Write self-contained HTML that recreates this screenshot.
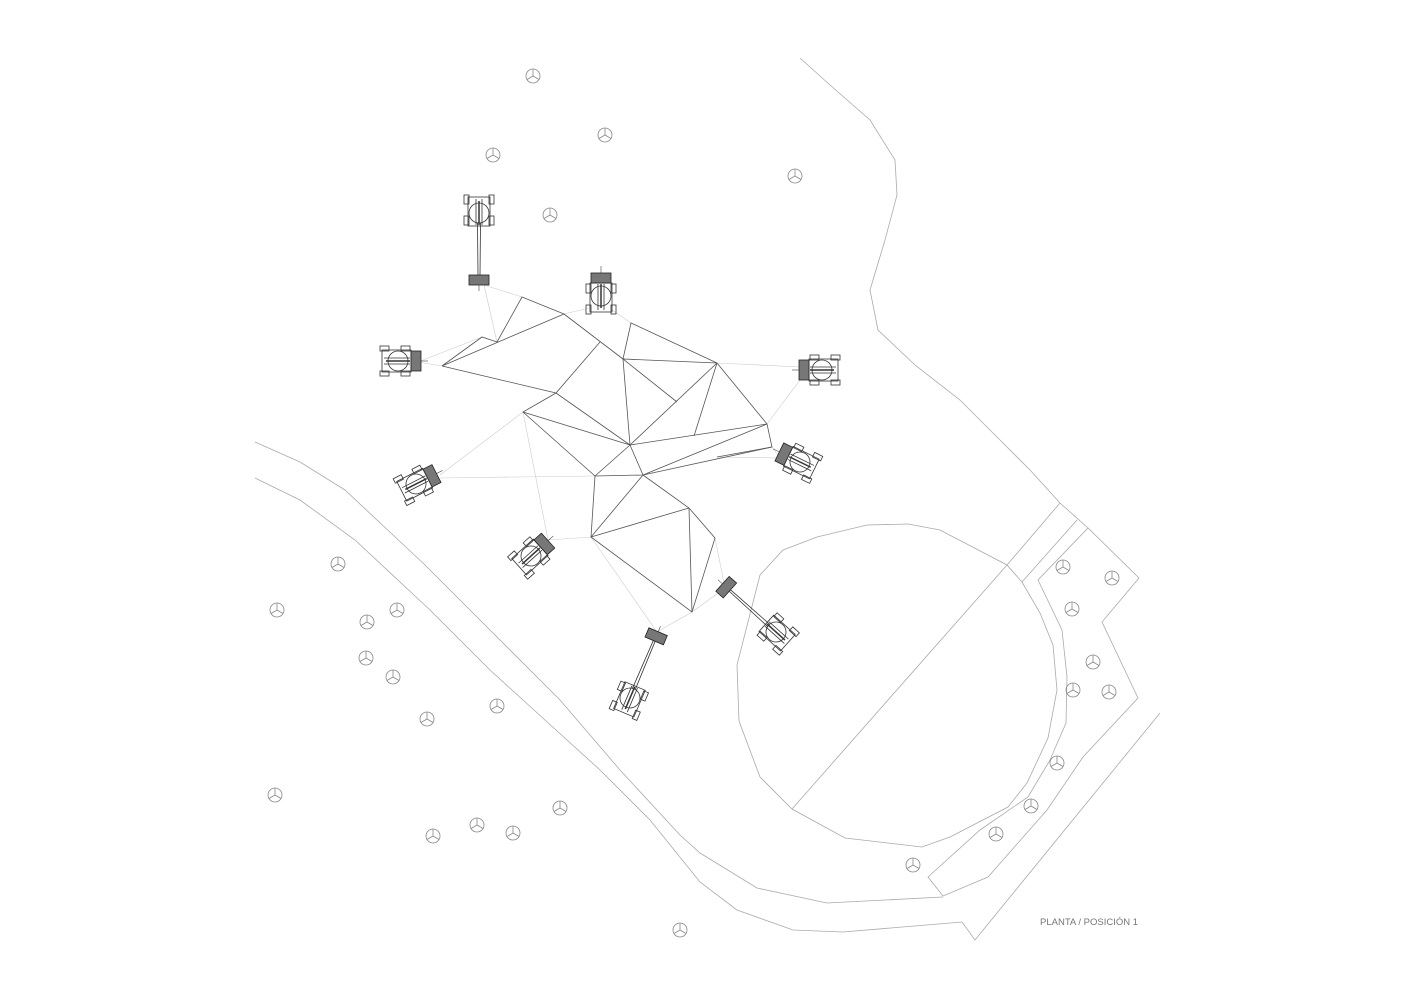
<!DOCTYPE html>
<html><head><meta charset="utf-8"><style>
html,body{margin:0;padding:0;background:#fff;}
svg{display:block;}
</style></head><body>
<svg width="1414" height="1000" viewBox="0 0 1414 1000" xmlns="http://www.w3.org/2000/svg">
<defs>
<g id="tree" fill="none" stroke="#888" stroke-width="0.8">
<circle r="7"/><path d="M0,0 L0,-7 M0,0 L6,3.5 M0,0 L-6,3.5"/>
</g>
<g id="body" fill="none" stroke="#333" stroke-width="0.8">
<rect x="-11" y="-16" width="22" height="29" fill="#fff"/>
<circle r="10" fill="#fff"/>
<rect x="-15" y="-18" width="5" height="9"/><rect x="10" y="-18" width="5" height="9"/>
<rect x="-15" y="3" width="5" height="9"/><rect x="10" y="3" width="5" height="9"/>
<line x1="-3" y1="-14" x2="-3" y2="12"/><line x1="3" y1="-14" x2="3" y2="12"/>
<line x1="0" y1="-12" x2="0" y2="12" stroke-width="1.5"/>
</g>
<g id="craneS">
<use href="#body"/>
<rect x="-10" y="13" width="20" height="10" fill="#777" stroke="#222" stroke-width="0.8"/>
<line x1="0" y1="23" x2="0" y2="30" stroke="#444" stroke-width="0.6"/>
</g>
<g id="craneL">
<use href="#body"/>
<line x1="-1.5" y1="10" x2="-1" y2="62" stroke="#333" stroke-width="0.8"/>
<line x1="1.5" y1="10" x2="1" y2="62" stroke="#333" stroke-width="0.8"/>
<rect x="-10" y="62" width="20" height="10" fill="#777" stroke="#222" stroke-width="0.8"/>
<line x1="0" y1="72" x2="0" y2="78" stroke="#444" stroke-width="0.6"/>
</g>
</defs>

<!-- roads -->
<g fill="none" stroke="#aaa" stroke-width="0.8">
<polyline points="800,58 830,85 870,120 895,160 897,195 885,240 870,290 878,330 915,365 960,400 1000,440 1030,470 1060,503 1088,528"/>
<polyline points="255,442 300,462 345,490 425,565 490,630 560,700 620,770 680,835 700,853 757,888 827,903 943,897"/>
<polyline points="255,478 300,500 355,540 430,610 490,670 545,720 600,770 650,820 700,882 737,910 793,930 843,932 962,922 975,940 1160,713"/>
<polygon points="867,525 908,524 940,530 1007,565 1022,582 1040,613 1053,645 1057,690 1048,738 1027,783 1008,807 950,837 922,847 845,838 792,809 760,777 739,721 737,665 760,575 783,550 817,537"/>
<line x1="1007" y1="565" x2="792" y2="809"/>
<line x1="1060" y1="503" x2="1007" y2="565"/>
<line x1="1077" y1="520" x2="1022" y2="582"/>
<polygon points="1038,580 1062,630 1067,677 1066,723 1050,760 1028,797 980,830 928,877 943,896 988,877 1047,810 1083,757 1138,698 1102,622 1139,578 1088,528"/>
</g>

<!-- guide lines -->
<g stroke="#ccc" stroke-width="0.6" fill="none">
<line x1="484" y1="285" x2="497" y2="342"/><line x1="484" y1="285" x2="522" y2="297"/>
<line x1="418" y1="362" x2="442" y2="366"/><line x1="418" y1="362" x2="482" y2="337"/>
<line x1="602" y1="305" x2="564" y2="314"/><line x1="605" y1="305" x2="631" y2="323"/>
<line x1="800" y1="367" x2="717" y2="363"/><line x1="800" y1="380" x2="767" y2="424"/>
<line x1="780" y1="458" x2="772" y2="447"/><line x1="780" y1="458" x2="717" y2="457"/>
<line x1="440" y1="475" x2="523" y2="412"/><line x1="440" y1="478" x2="595" y2="476"/>
<line x1="548" y1="540" x2="523" y2="412"/><line x1="548" y1="540" x2="591" y2="537"/>
<line x1="725" y1="588" x2="715" y2="538"/><line x1="725" y1="588" x2="692" y2="612"/>
<line x1="657" y1="632" x2="591" y2="537"/><line x1="657" y1="632" x2="692" y2="612"/>
</g>

<!-- structure -->
<g stroke="#555" stroke-width="0.8" fill="none">
<polyline points="442,366 482,337 497,342 522,297 564,314 442,366"/>
<line x1="442" y1="366" x2="556" y2="393"/>
<line x1="564" y1="314" x2="623" y2="359"/>
<polyline points="600,342 556,393 523,412 630,445 556,393"/>
<polyline points="523,412 595,476 630,445 643,475 595,476"/>
<line x1="623" y1="359" x2="630" y2="445"/>
<polyline points="623,359 631,323 717,363 623,359 677,402"/>
<line x1="717" y1="363" x2="630" y2="445"/>
<line x1="717" y1="363" x2="694" y2="436"/>
<polyline points="717,363 767,424 772,447 717,457"/>
<line x1="630" y1="445" x2="767" y2="424"/>
<line x1="767" y1="424" x2="643" y2="475"/>
<line x1="643" y1="475" x2="772" y2="447"/>
<polyline points="643,475 689,508 715,538 692,612 591,537 595,476"/>
<line x1="643" y1="475" x2="591" y2="537"/>
<line x1="591" y1="537" x2="689" y2="508"/>
<line x1="689" y1="508" x2="692" y2="612"/>
</g>

<!-- cranes -->
<use href="#craneL" transform="translate(479,213) rotate(0)"/>
<use href="#craneS" transform="translate(601,296) rotate(180)"/>
<use href="#craneS" transform="translate(398,361) rotate(-90)"/>
<use href="#craneS" transform="translate(822,370) rotate(90)"/>
<use href="#craneS" transform="translate(800,462) rotate(116)"/>
<use href="#craneS" transform="translate(416,484) rotate(-117)"/>
<use href="#craneS" transform="translate(531,556) rotate(-132)"/>
<use href="#craneL" transform="translate(776,632) rotate(132)"/>
<use href="#craneL" transform="translate(630,698) rotate(-157)"/>

<!-- trees -->
<g>
<use href="#tree" x="533" y="76"/><use href="#tree" x="605" y="135"/><use href="#tree" x="493" y="155"/>
<use href="#tree" x="795" y="176"/><use href="#tree" x="550" y="215"/><use href="#tree" x="338" y="564"/>
<use href="#tree" x="277" y="610"/><use href="#tree" x="367" y="622"/><use href="#tree" x="397" y="610"/>
<use href="#tree" x="366" y="658"/><use href="#tree" x="393" y="677"/><use href="#tree" x="427" y="719"/>
<use href="#tree" x="497" y="706"/><use href="#tree" x="275" y="795"/><use href="#tree" x="560" y="808"/>
<use href="#tree" x="477" y="825"/><use href="#tree" x="513" y="833"/><use href="#tree" x="433" y="836"/>
<use href="#tree" x="680" y="930"/><use href="#tree" x="1063" y="567"/><use href="#tree" x="1112" y="578"/>
<use href="#tree" x="1072" y="609"/><use href="#tree" x="1093" y="662"/><use href="#tree" x="1073" y="690"/>
<use href="#tree" x="1109" y="692"/><use href="#tree" x="1057" y="763"/><use href="#tree" x="1031" y="806"/>
<use href="#tree" x="996" y="834"/><use href="#tree" x="913" y="865"/>
</g>

<text x="1040" y="925" font-family="Liberation Sans, sans-serif" font-size="9.5" fill="#777">PLANTA / POSICIÓN 1</text>
</svg>
</body></html>
